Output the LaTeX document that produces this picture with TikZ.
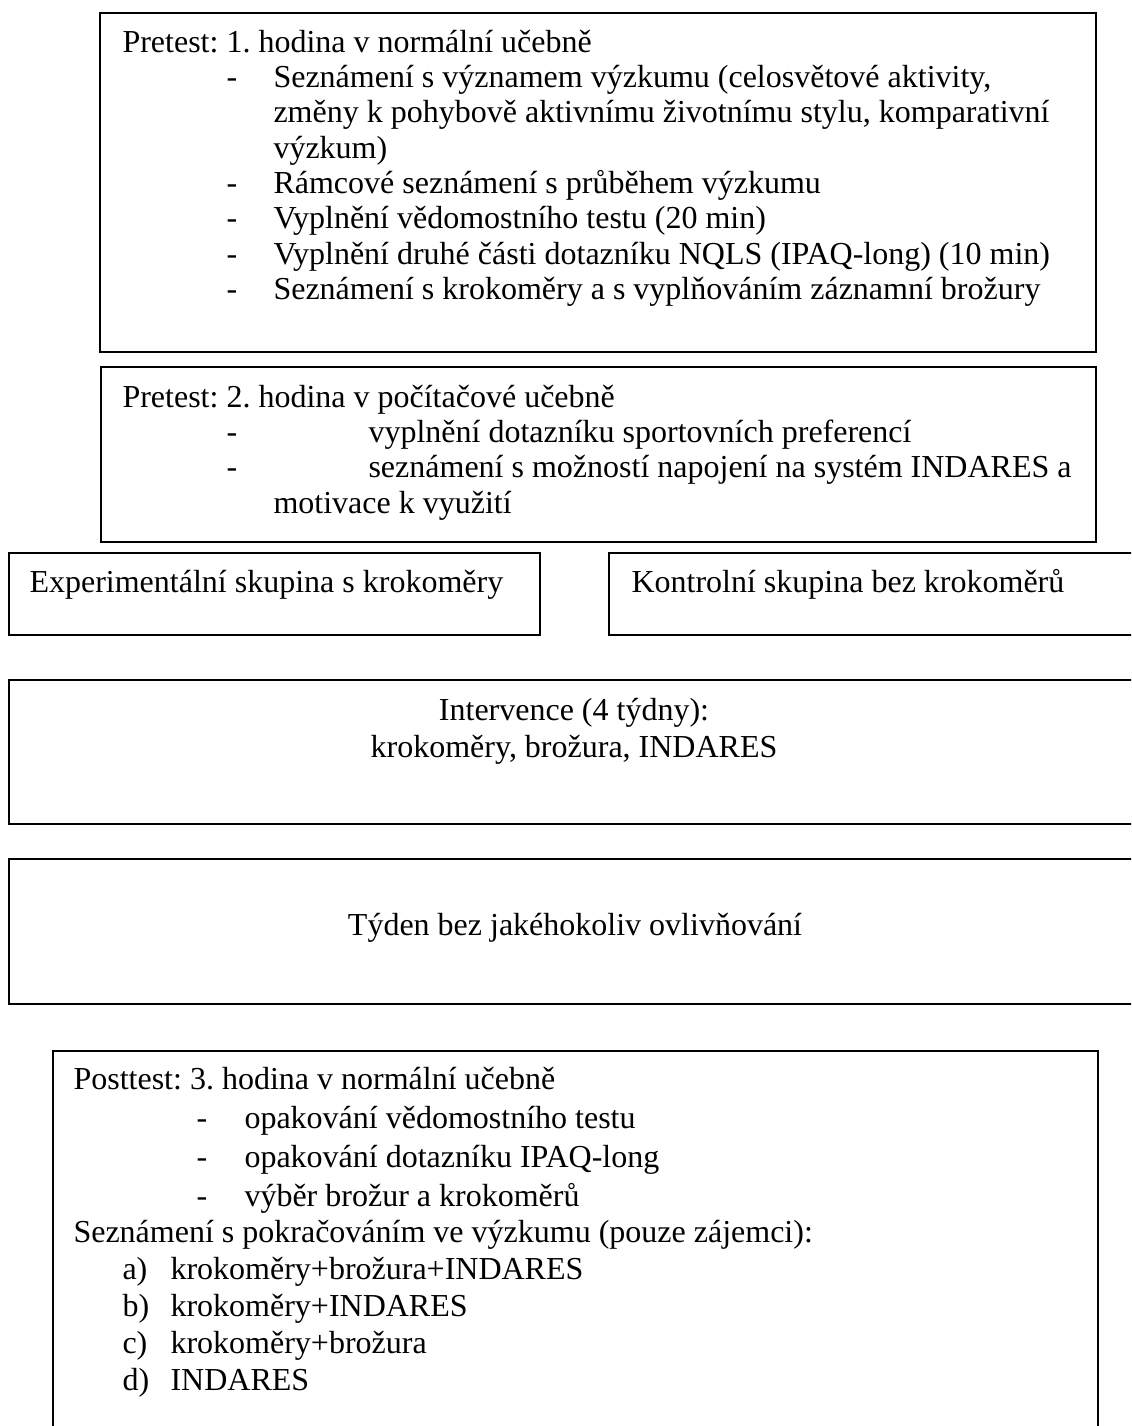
\documentclass[tikz,border=0pt]{standalone}
\usepackage{fontspec}
\setmainfont{Liberation Serif}
\usetikzlibrary{fit}
\frenchspacing
\begin{document}
\begin{tikzpicture}[x=0.375pt,y=-0.375pt,
  frame/.style={draw=black, line width=0.75pt, inner sep=0pt},
  txt/.style={anchor=base west, inner sep=0pt, font=\fontsize{12pt}{14pt}\selectfont\frenchspacing},
  ctxt/.style={anchor=base, inner sep=0pt, font=\fontsize{12pt}{14pt}\selectfont\frenchspacing}]
\useasboundingbox (0,0) rectangle (1131,1426);
\clip (0,0) rectangle (1131,1426);
\fill[white] (0,0) rectangle (1131,1426);

% Box 1
\coordinate (b1nw) at (100,13);
\coordinate (b1se) at (1096,352);
\node[frame, fit=(b1nw)(b1se)] (b1) {};
\node[txt] (b1t0) at (122,53) {Pretest: 1. hodina v normální učebně};
\node[txt] (b1d1) at (226,88) {-};
\node[txt] (b1t1) at (273,88) {Seznámení s významem výzkumu (celosvětové aktivity,};
\node[txt] (b1t1b) at (273,123) {změny k pohybově aktivnímu životnímu stylu, komparativní};
\node[txt] (b1t1c) at (273,159) {výzkum)};
\node[txt] (b1d2) at (226,194) {-};
\node[txt] (b1t2) at (273,194) {Rámcové seznámení s průběhem výzkumu};
\node[txt] (b1d3) at (226,229) {-};
\node[txt] (b1t3) at (273,229) {Vyplnění vědomostního testu (20 min)};
\node[txt] (b1d4) at (226,265) {-};
\node[txt] (b1t4) at (273,265) {Vyplnění druhé části dotazníku NQLS (IPAQ-long) (10 min)};
\node[txt] (b1d5) at (226,300) {-};
\node[txt] (b1t5) at (273,300) {Seznámení s krokoměry a s vyplňováním záznamní brožury};

% Box 2
\coordinate (b2nw) at (101,367);
\coordinate (b2se) at (1096,542);
\node[frame, fit=(b2nw)(b2se)] (b2) {};
\node[txt] (b2t0) at (122,407) {Pretest: 2. hodina v počítačové učebně};
\node[txt] (b2d1) at (226,442) {-};
\node[txt] (b2t1) at (368,442) {vyplnění dotazníku sportovních preferencí};
\node[txt] (b2d2) at (226,477) {-};
\node[txt] (b2t2) at (368,477) {seznámení s možností napojení na systém INDARES a};
\node[txt] (b2t2b) at (273,513) {motivace k využití};

% Box 3 and 4
\coordinate (b3nw) at (9,553);
\coordinate (b3se) at (540,635);
\node[frame, fit=(b3nw)(b3se)] (b3) {};
\node[txt] (b3t) at (29,592) {Experimentální skupina s krokoměry};
\coordinate (b4nw) at (609,553);
\coordinate (b4se) at (1145,635);
\node[frame, fit=(b4nw)(b4se)] (b4) {};
\node[txt] (b4t) at (631,592) {Kontrolní skupina bez krokoměrů};

% Box 5
\coordinate (b5nw) at (9,680);
\coordinate (b5se) at (1145,824);
\node[frame, fit=(b5nw)(b5se)] (b5) {};
\node[ctxt] (b5t1) at (574,720) {Intervence (4 týdny):};
\node[ctxt] (b5t2) at (574,757) {krokoměry, brožura, INDARES};

% Box 6
\coordinate (b6nw) at (9,859);
\coordinate (b6se) at (1145,1004);
\node[frame, fit=(b6nw)(b6se)] (b6) {};
\node[ctxt] (b6t) at (575,935) {Týden bez jakéhokoliv ovlivňování};

% Box 7
\coordinate (b7nw) at (53,1051);
\coordinate (b7se) at (1098,1440);
\node[frame, fit=(b7nw)(b7se)] (b7) {};
\node[txt] (b7t0) at (73,1089) {Posttest: 3. hodina v normální učebně};
\node[txt] (b7d1) at (196,1128) {-};
\node[txt] (b7t1) at (244,1128) {opakování vědomostního testu};
\node[txt] (b7d2) at (196,1167) {-};
\node[txt] (b7t2) at (244,1167) {opakování dotazníku IPAQ-long};
\node[txt] (b7d3) at (196,1206) {-};
\node[txt] (b7t3) at (244,1206) {výběr brožur a krokoměrů};
\node[txt] (b7t4) at (73,1242) {Seznámení s pokračováním ve výzkumu (pouze zájemci):};
\node[txt] (b7a) at (122,1279) {a)};
\node[txt] (b7at) at (170,1279) {krokoměry+brožura+INDARES};
\node[txt] (b7b) at (122,1316) {b)};
\node[txt] (b7bt) at (170,1316) {krokoměry+INDARES};
\node[txt] (b7c) at (122,1353) {c)};
\node[txt] (b7ct) at (170,1353) {krokoměry+brožura};
\node[txt] (b7dd) at (122,1390) {d)};
\node[txt] (b7dt) at (170,1390) {INDARES};
\end{tikzpicture}
\end{document}
